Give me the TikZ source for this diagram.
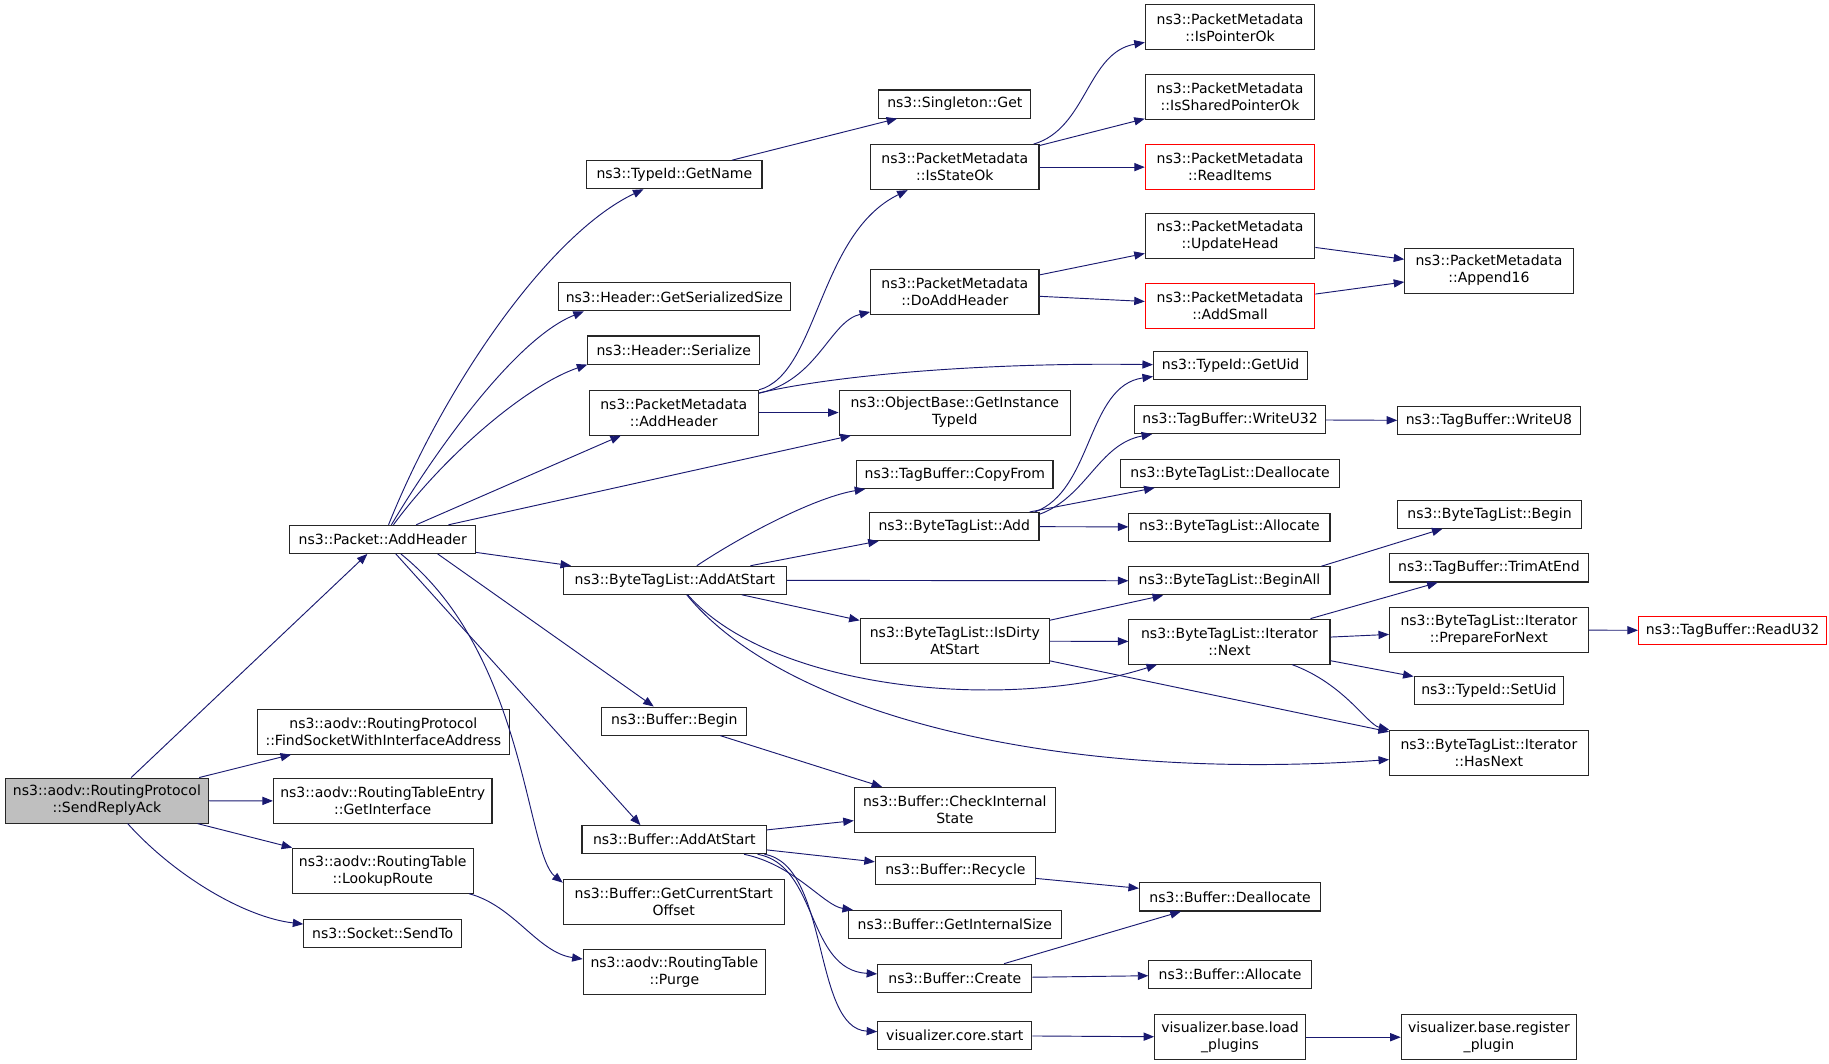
\documentclass[tikz,border=0pt]{standalone}
\usepackage{fontspec}
\setmainfont{DejaVu Sans}
\usetikzlibrary{arrows.meta}

\definecolor{edgeblue}{HTML}{191970}
\definecolor{boxgray}{HTML}{BFBFBF}
\definecolor{missred}{HTML}{FF0000}

\tikzset{
  fn/.style={draw=black!85, line width=0.9pt, inner sep=0pt, align=center,
    font=\fontsize{12}{14.5}\selectfont},
  one/.style={minimum height=24pt},
  two/.style={minimum height=38.5pt},
  call/.style={draw=edgeblue, line width=0.8pt, -{Triangle[length=9pt,width=7pt]}}
}

\begin{document}
\begin{tikzpicture}[x=1pt,y=-1pt]
\useasboundingbox (0,0) rectangle (1565,910);

% first column
\node[fn, two, fill=boxgray, minimum width=173pt] (srp) at (91.5,685) {ns3::aodv::RoutingProtocol\\::SendReplyAck};

% second column
\node[fn, one, minimum width=159pt] (ah) at (327.5,461.5) {ns3::Packet::AddHeader};
\node[fn, two, minimum width=216pt] (find) at (328,626) {ns3::aodv::RoutingProtocol\\::FindSocketWithInterfaceAddress};
\node[fn, two, minimum width=187pt] (getif) at (327.5,685.5) {ns3::aodv::RoutingTableEntry\\::GetInterface};
\node[fn, two, minimum width=155pt] (lookup) at (327.5,745) {ns3::aodv::RoutingTable\\::LookupRoute};
\node[fn, one, minimum width=135pt] (sendto) at (327.5,798.5) {ns3::Socket::SendTo};

% third column
\node[fn, one, minimum width=150pt] (getname) at (577,149.5) {ns3::TypeId::GetName};
\node[fn, one, minimum width=198pt] (hss) at (577,254) {ns3::Header::GetSerializedSize};
\node[fn, one, minimum width=147pt] (hser) at (576.5,299.5) {ns3::Header::Serialize};
\node[fn, two, minimum width=145pt] (pmah) at (576.5,353) {ns3::PacketMetadata\\::AddHeader};
\node[fn, one, minimum width=191pt] (btlaas) at (577.5,496.5) {ns3::ByteTagList::AddAtStart};
\node[fn, one, minimum width=124pt] (bufbegin) at (577,617) {ns3::Buffer::Begin};
\node[fn, one, minimum width=158pt] (bufaas) at (577,718.5) {ns3::Buffer::AddAtStart};
\node[fn, two, minimum width=189pt] (gcso) at (576.5,772) {ns3::Buffer::GetCurrentStart\\Offset};
\node[fn, two, minimum width=156pt] (purge) at (577,832) {ns3::aodv::RoutingTable\\::Purge};

% fourth column
\node[fn, one, minimum width=130pt] (singleton) at (817,89) {ns3::Singleton::Get};
\node[fn, two, minimum width=144pt] (iso) at (817,143) {ns3::PacketMetadata\\::IsStateOk};
\node[fn, two, minimum width=144pt] (dah) at (817,250) {ns3::PacketMetadata\\::DoAddHeader};
\node[fn, two, minimum width=198pt] (obgit) at (817,353) {ns3::ObjectBase::GetInstance\\TypeId};
\node[fn, one, minimum width=168pt] (tbcf) at (817,406) {ns3::TagBuffer::CopyFrom};
\node[fn, one, minimum width=145pt] (btladd) at (816.5,450.5) {ns3::ByteTagList::Add};
\node[fn, two, minimum width=162pt] (isdirty) at (817,548.5) {ns3::ByteTagList::IsDirty\\AtStart};
\node[fn, two, minimum width=172pt] (cis) at (817,693) {ns3::Buffer::CheckInternal\\State};
\node[fn, one, minimum width=137pt] (recycle) at (817.5,745) {ns3::Buffer::Recycle};
\node[fn, one, minimum width=182pt] (gis) at (817,791) {ns3::Buffer::GetInternalSize};
\node[fn, one, minimum width=132pt] (create) at (817,837) {ns3::Buffer::Create};
\node[fn, one, minimum width=132pt] (corestart) at (817,886) {visualizer.core.start};

% fifth column
\node[fn, two, minimum width=145pt] (ipo) at (1052.5,23.5) {ns3::PacketMetadata\\::IsPointerOk};
\node[fn, two, minimum width=145pt] (isp) at (1052.5,83) {ns3::PacketMetadata\\::IsSharedPointerOk};
\node[fn, two, draw=missred, minimum width=145pt] (readitems) at (1052.5,143) {ns3::PacketMetadata\\::ReadItems};
\node[fn, two, minimum width=145pt] (updhead) at (1052.5,202) {ns3::PacketMetadata\\::UpdateHead};
\node[fn, two, draw=missred, minimum width=145pt] (addsmall) at (1052.5,261.5) {ns3::PacketMetadata\\::AddSmall};
\node[fn, one, minimum width=132pt] (getuid) at (1053,313) {ns3::TypeId::GetUid};
\node[fn, one, minimum width=163pt] (writeu32) at (1052.5,359) {ns3::TagBuffer::WriteU32};
\node[fn, one, minimum width=187pt] (btldealloc) at (1052.5,405) {ns3::ByteTagList::Deallocate};
\node[fn, one, minimum width=172pt] (btlalloc) at (1052,451) {ns3::ByteTagList::Allocate};
\node[fn, one, minimum width=172pt] (beginall) at (1052,497) {ns3::ByteTagList::BeginAll};
\node[fn, two, minimum width=172pt] (next) at (1052,549) {ns3::ByteTagList::Iterator\\::Next};
\node[fn, one, minimum width=155pt] (bufdealloc) at (1052.5,767.5) {ns3::Buffer::Deallocate};
\node[fn, one, minimum width=139pt] (bufalloc) at (1052.5,834) {ns3::Buffer::Allocate};
\node[fn, two, minimum width=129pt] (loadpl) at (1052.5,887.5) {visualizer.base.load\\\_plugins};

% sixth column
\node[fn, two, minimum width=144pt] (append16) at (1274,231.5) {ns3::PacketMetadata\\::Append16};
\node[fn, one, minimum width=156pt] (writeu8) at (1274,360) {ns3::TagBuffer::WriteU8};
\node[fn, one, minimum width=157pt] (btlbegin) at (1274.5,440) {ns3::ByteTagList::Begin};
\node[fn, one, minimum width=170pt] (trim) at (1274,486) {ns3::TagBuffer::TrimAtEnd};
\node[fn, two, minimum width=170pt] (prepare) at (1274,539) {ns3::ByteTagList::Iterator\\::PrepareForNext};
\node[fn, one, minimum width=128pt] (setuid) at (1274,591) {ns3::TypeId::SetUid};
\node[fn, two, minimum width=170pt] (hasnext) at (1274,644) {ns3::ByteTagList::Iterator\\::HasNext};
\node[fn, two, minimum width=150pt] (regpl) at (1274,887.5) {visualizer.base.register\\\_plugin};

% last column
\node[fn, one, draw=missred, minimum width=161pt] (readu32) at (1482.5,539.5) {ns3::TagBuffer::ReadU32};

% calls of SendReplyAck
\draw[call] (srp) -- (ah);
\draw[call] (srp) -- (find);
\draw[call] (srp) -- (getif);
\draw[call] (srp) -- (lookup);
\draw[call] (srp) .. controls (150,750) and (210,785) .. (sendto);
\draw[call] (lookup) .. controls (440,775) and (460,815) .. (purge);

% calls of Packet::AddHeader
\draw[call] (ah) .. controls (380,330) and (470,200) .. (getname);
\draw[call] (ah) .. controls (370,390) and (440,290) .. ([xshift=22pt]hss.south west);
\draw[call] (ah) .. controls (380,390) and (450,330) .. (hser.south west);
\draw[call] (ah) -- (pmah);
\draw[call] (ah) -- (obgit);
\draw[call] (ah) -- (btlaas);
\draw[call] ([xshift=47pt]ah.south) -- (bufbegin);
\draw[call] (ah) -- ([xshift=-29pt]bufaas.north);
\draw[call] (ah) .. controls (450,560) and (450,730) .. ([yshift=-3pt]gcso.north west);

% packet metadata
\draw[call] (getname) -- (singleton);
\draw[call] (pmah) .. controls (700,320) and (700,200) .. (iso);
\draw[call] (pmah) .. controls (700,325) and (710,275) .. (dah);
\draw[call] (pmah) -- (obgit);
\draw[call] (pmah) .. controls (720,320) and (850,310) .. (getuid);
\draw[call] (iso) .. controls (930,110) and (930,45) .. (ipo);
\draw[call] (iso) -- (isp);
\draw[call] (iso) -- (readitems);
\draw[call] (dah) -- (updhead);
\draw[call] (dah) -- (addsmall);
\draw[call] (updhead) -- (append16);
\draw[call] (addsmall) -- (append16);

% byte tag list
\draw[call] (btlaas) .. controls (640,455) and (700,425) .. (tbcf);
\draw[call] (btlaas) -- (btladd);
\draw[call] (btlaas) -- (beginall);
\draw[call] (btlaas) -- (isdirty);
\draw[call] (btlaas) .. controls (660,590) and (860,610) .. (next);
\draw[call] (btlaas) .. controls (670,610) and (900,670) .. (hasnext);
\draw[call] ([xshift=-4pt]btladd.north east) .. controls (935,420) and (930,330) .. (getuid);
\draw[call] ([yshift=-2pt]btladd.north east) .. controls (930,425) and (940,380) .. (writeu32);
\draw[call] (btladd) -- (btldealloc);
\draw[call] (btladd) -- (btlalloc);
\draw[call] (isdirty) -- (beginall);
\draw[call] (isdirty) -- (next);
\draw[call] (isdirty) -- (hasnext);
\draw[call] (writeu32) -- (writeu8);
\draw[call] ([xshift=-8pt]beginall.north east) -- (btlbegin);
\draw[call] (next) -- (trim);
\draw[call] (next) -- (prepare);
\draw[call] (next) -- (setuid);
\draw[call] (next) .. controls (1150,585) and (1170,620) .. (hasnext);
\draw[call] (prepare) -- (readu32);

% buffer
\draw[call] (bufbegin) -- (cis);
\draw[call] (bufaas) -- (cis);
\draw[call] (bufaas) -- (recycle);
\draw[call] (bufaas) .. controls (680,740) and (705,775) .. (gis);
\draw[call] (bufaas) .. controls (700,740) and (690,830) .. (create);
\draw[call] (bufaas) .. controls (710,740) and (695,880) .. (corestart);
\draw[call] (recycle) -- (bufdealloc);
\draw[call] (create) -- (bufdealloc);
\draw[call] (create) -- (bufalloc);
\draw[call] (corestart) -- (loadpl);
\draw[call] (loadpl) -- (regpl);

\end{tikzpicture}
\end{document}
